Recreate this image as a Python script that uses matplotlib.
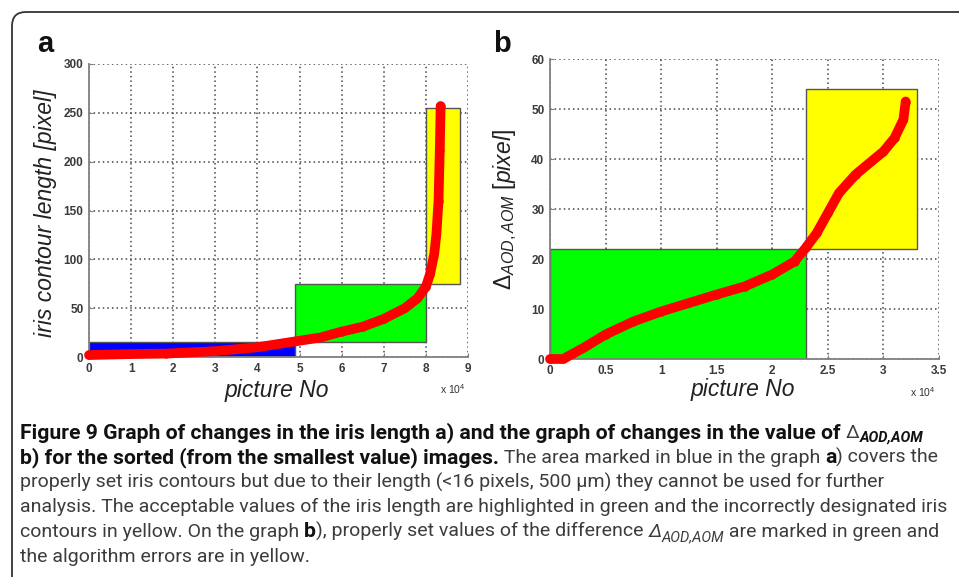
import matplotlib
matplotlib.use("Agg")
import matplotlib.pyplot as plt
from matplotlib.patches import Rectangle, FancyBboxPatch
from matplotlib import font_manager

# panel a: sorted iris contour lengths
a_x = [0, 10000, 18400, 30000, 40000, 49000, 55000, 60000, 65000, 70000,
       75000, 78000, 80000, 81000, 82000, 82500, 83000, 83300, 83500]
a_y = [2, 3, 3.5, 6, 10, 16, 20, 26, 31, 39,
       50, 60, 72, 85, 106, 126, 160, 212, 257]
# (x0, x1, y0, y1)
a_blue = (0, 49000, 0, 15)
a_green = (49000, 80000, 15, 75)
a_yellow = (80000, 88000, 75, 255)

# panel b: sorted delta AOD,AOM
b_x = [0, 1200, 2000, 3000, 5000, 7500, 10000, 12500, 15000, 17500, 20000,
       22000, 23000, 24000, 25000, 26000, 27500, 30000, 31000, 31800, 32000]
b_y = [0, 0, 1, 2.2, 4.9, 7.5, 9.5, 11.2, 12.9, 14.5, 16.9,
       19.5, 22.2, 25.2, 29.2, 33.2, 36.9, 41.5, 44.2, 47.9, 51.5]
b_green = (0, 23000, 0, 22)
b_yellow = (23000, 33000, 22, 54)

a_xticks = [0, 1, 2, 3, 4, 5, 6, 7, 8, 9]
a_yticks = [0, 50, 100, 150, 200, 250, 300]
b_xticks = [0, 0.5, 1, 1.5, 2, 2.5, 3, 3.5]
b_yticks = [0, 10, 20, 30, 40, 50, 60]

W, H = 959, 577
fig = plt.figure(figsize=(W / 100, H / 100), dpi=100)
plt.rcParams['font.family'] = ['Liberation Sans', 'DejaVu Sans']
plt.rcParams['mathtext.fontset'] = 'custom'
plt.rcParams['mathtext.it'] = 'Liberation Sans:italic'
plt.rcParams['mathtext.rm'] = 'Liberation Sans'

names = {f.name for f in font_manager.fontManager.ttflist}
cap_font = 'Liberation Sans Narrow' if 'Liberation Sans Narrow' in names else 'Roboto'

# outer frame, only top-left corner visible
frame = FancyBboxPatch((0.12, -1.0), 12, 5.65 + 1.0,
                       boxstyle="round,pad=0,rounding_size=0.14",
                       transform=fig.dpi_scale_trans, facecolor='none',
                       edgecolor='#333333', linewidth=1.3, clip_on=False)
fig.add_artist(frame)


def box_px(left, top, right, bottom):
    return [left / W, 1 - bottom / H, (right - left) / W, (bottom - top) / H]


def panel(pos, xs, ys, boxes, xmax, ymax, xticks, yticks, scale):
    ax = fig.add_axes(pos)
    ax.set_xlim(0, xmax)
    ax.set_ylim(0, ymax)
    ax.set_axisbelow(True)
    ax.grid(True, linestyle=(0, (1, 2)), color='#444444', linewidth=1.1)
    for s in ['top', 'right']:
        ax.spines[s].set_visible(False)
    for s in ['left', 'bottom']:
        ax.spines[s].set_color('#808080')
        ax.spines[s].set_linewidth(1.3)
    ax.set_xticks([t * scale for t in xticks])
    ax.set_xticklabels([('%g' % t) for t in xticks])
    ax.set_yticks(yticks)
    ax.tick_params(direction='in', length=3, color='#808080', labelsize=8.5,
                   labelcolor='#3a3a3a', pad=4)
    for lab in ax.get_xticklabels() + ax.get_yticklabels():
        lab.set_fontweight('bold')
    for (x0, x1, y0, y1), col in boxes:
        ax.add_patch(Rectangle((x0, y0), x1 - x0, y1 - y0, facecolor=col,
                               edgecolor='#555555', linewidth=1.0, zorder=1.5))
    ax.plot(xs, ys, color='#ff0000', linewidth=7, marker='o', markersize=5,
            solid_capstyle='round', zorder=3, clip_on=False)
    return ax


ax1 = panel(box_px(89, 64, 468, 357), a_x, a_y,
            [(a_blue, '#0000ff'), (a_green, '#00ff00'), (a_yellow, '#ffff00')],
            90000, 300, a_xticks, a_yticks, 10000)
ax2 = panel(box_px(550, 59, 939, 359), b_x, b_y,
            [(b_green, '#00ff00'), (b_yellow, '#ffff00')],
            35000, 60, b_xticks, b_yticks, 10000)

lab_kw = dict(fontsize=16.5, style='italic', color='#222222')
ax1.text(-0.115, 0.49, 'iris contour length [pixel]', rotation=90,
         ha='center', va='center', transform=ax1.transAxes, **lab_kw)
ax1.text(0.496, -0.113, 'picture No', ha='center', va='center',
         transform=ax1.transAxes, **lab_kw)
ax2.text(-0.115, 0.497, r'$\mathit{\Delta_{AOD,AOM}\ [pixel]}$', rotation=90,
         ha='center', va='center', transform=ax2.transAxes, **lab_kw)
ax2.text(0.496, -0.103, 'picture No', ha='center', va='center',
         transform=ax2.transAxes, **lab_kw)

fig.text(453 / W, 1 - 389 / H, r'x 10$^4$', fontsize=7.5, ha='center',
         va='center', color='#333333')
fig.text(923 / W, 1 - 392 / H, r'x 10$^4$', fontsize=7.5, ha='center',
         va='center', color='#333333')

fig.text(37 / W, 1 - 52 / H, 'a', fontsize=21, fontweight='bold', color='#111111')
fig.text(493 / W, 1 - 52 / H, 'b', fontsize=21, fontweight='bold', color='#111111')

# caption, laid out run by run
renderer = fig.canvas.get_renderer()
CAP = 14
CAP_B = 15.2
styles = {
    'b': dict(fontweight='bold', color='#111111', big=True),
    'r': dict(color='#3c3c3c'),
    'i': dict(style='italic', color='#3c3c3c'),
    'bsub': dict(fontweight='bold', style='italic', color='#111111', sub=True),
    'isub': dict(style='italic', color='#3c3c3c', sub=True),
}


def width_of(s, kw):
    t = fig.text(0, 0, '|' + s + '|', **kw)
    w1 = t.get_window_extent(renderer).width
    t.remove()
    t = fig.text(0, 0, '||', **kw)
    w2 = t.get_window_extent(renderer).width
    t.remove()
    return w1 - w2


def put_line(runs, x, base):
    for txt, st in runs:
        kw = dict(styles[st])
        sub = kw.pop('sub', False)
        big = kw.pop('big', False)
        if sub:
            kw['fontsize'] = CAP * 0.75
        elif big:
            kw['fontsize'] = CAP_B
        else:
            kw['fontsize'] = CAP
        kw['family'] = [cap_font, 'DejaVu Sans']
        y = base + (4 if sub else 0)
        fig.text(x / W, 1 - y / H, txt, va='baseline', ha='left', **kw)
        x += width_of(txt, kw)


caption = [
    [("Figure 9 Graph of changes in the iris length a) and the graph of changes in the value of ", 'b'),
     ("Δ", 'r'), ("AOD,AOM", 'bsub')],
    [("b) for the sorted (from the smallest value) images.", 'b'),
     (" The area marked in blue in the graph ", 'r'), ("a", 'b'), (") covers the", 'r')],
    [("properly set iris contours but due to their length (<16 pixels, 500 μm) they cannot be used for further", 'r')],
    [("analysis. The acceptable values of the iris length are highlighted in green and the incorrectly designated iris", 'r')],
    [("contours in yellow. On the graph ", 'r'), ("b", 'b'),
     ("), properly set values of the difference ", 'r'), ("Δ", 'i'), ("AOD,AOM", 'isub'),
     (" are marked in green and", 'r')],
    [("the algorithm errors are in yellow.", 'r')],
]
baselines = [438, 463, 488, 512, 537, 562]
for runs, b in zip(caption, baselines):
    put_line(runs, 20, b)

fig.savefig('out.png', dpi=100)
